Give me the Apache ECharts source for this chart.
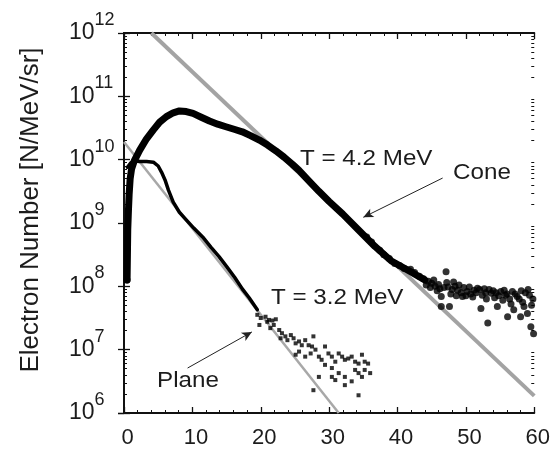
<!DOCTYPE html>
<html>
<head>
<meta charset="utf-8">
<script src="https://cdn.jsdelivr.net/npm/echarts@6/dist/echarts.min.js"></script>
<style>html,body{margin:0;padding:0;background:#fff}#c{width:553px;height:454px}</style>
</head>
<body>
<div id="c"></div>
<script>
// ---- data (x = electron energy [MeV], y = log10 of electron number [N/MeV/sr]) ----
const xTicks = [0, 10, 20, 30, 40, 50, 60];
const yExponents = [6, 7, 8, 9, 10, 11, 12];

const coneSpectrum = [
  [0.45,8.1],[0.5,8.5],[0.55,8.9],[0.65,9.2],[0.75,9.45],[0.9,9.7],[1.1,9.85],[1.5,9.98],
  [2.3,10.15],[3.3,10.33],[4.3,10.47],[5.2,10.59],[6.2,10.68],[7.2,10.74],[8.1,10.77],
  [9.1,10.76],[10.1,10.73],[11.3,10.67],[12.5,10.61],[13.7,10.56],[14.9,10.52],[16.1,10.48],
  [17.3,10.44],[18.5,10.38],[19.8,10.31],[21.0,10.23],[22.2,10.14],[23.4,10.04],[24.6,9.93],
  [25.6,9.83],[27.0,9.67],[28.5,9.5],[30.0,9.34],[32.0,9.14],[34.3,8.89],[36.7,8.63],
  [39.1,8.40],[41.6,8.25],[44.0,8.10]
];
const coneTail = [
  [0.45,8.1],[35.5,8.78],[36.2,8.7],[37.4,8.57],[38.0,8.5],[38.8,8.44],[39.6,8.36],[40.3,8.33],
  [41.0,8.28],[41.9,8.27],[42.5,8.22],[43.2,8.16],[43.8,8.12],[44.2,8.02],[44.5,8.08],[44.8,7.98],
  [45.0,8.05],[45.3,8.1],[45.5,8.0],[45.8,7.93],[46.0,8.03],[46.2,7.96],[46.4,7.84],[46.4,7.68],
  [46.8,7.98],[47.1,8.23],[47.2,8.06],[47.4,7.99],[47.6,7.68],[47.8,7.88],[48.0,7.95],[48.2,8.07],
  [48.4,8.0],[48.6,7.85],[48.8,7.94],[49.0,8.02],[49.3,7.9],[49.5,7.84],[49.7,7.98],[50.0,7.85],
  [50.2,7.92],[50.5,7.99],[50.7,7.88],[51.0,7.83],[51.2,7.94],[51.5,7.9],[51.7,7.97],[52.0,7.95],
  [52.2,7.65],[52.4,7.86],[52.7,7.96],[52.9,7.9],[53.0,7.8],[53.2,7.42],[53.4,7.95],[53.7,7.89],
  [54.0,7.93],[54.2,7.82],[54.4,7.9],[54.6,7.68],[54.8,7.85],[55.1,7.92],[55.4,7.78],[55.6,7.94],
  [55.8,7.86],[56.0,7.88],[56.1,7.52],[56.4,7.8],[56.6,7.72],[56.8,7.92],[57.0,7.63],[57.2,7.88],
  [57.5,7.84],[57.8,7.8],[58.0,7.52],[58.1,7.93],[58.3,7.75],[58.5,7.68],[58.7,7.9],[59.0,7.57],
  [59.1,7.95],[59.3,7.86],[59.5,7.36],[59.6,7.7],[59.8,7.8],[59.9,7.25]
];
const planeSpectrum = [
  [0.5,9.88],[1.0,9.95],[1.6,9.98],[2.3,9.97],[3.3,9.97],[4.3,9.96],[5.0,9.9],[5.5,9.8],
  [6.0,9.68],[6.5,9.52],[7.2,9.33],[8.1,9.17],[9.1,9.05],[10.2,8.92],[11.5,8.78],[12.7,8.62],
  [13.9,8.47],[15.1,8.3],[16.2,8.14],[17.3,7.96],[18.3,7.82],[19.5,7.63]
];
const planeTail = [
  [19.5,7.55],[20.0,7.50],[20.7,7.52],[20.96,7.44],[21.2,7.47],[21.7,7.46],[21.9,7.39],[22.2,7.48],
  [19.8,7.39],[21.4,7.34],[22.7,7.31],[23.1,7.26],[23.6,7.21],[22.9,7.18],[23.9,7.15],[24.4,7.23],
  [24.8,7.18],[25.1,7.10],[25.6,7.13],[26.0,7.07],[26.5,7.15],[27.0,7.07],[27.7,7.21],[27.5,7.05],
  [25.6,6.97],[25.1,6.92],[26.5,6.89],[27.3,6.94],[28.0,7.0],[28.5,6.89],[28.9,6.84],[29.4,7.05],
  [29.9,6.94],[30.4,6.89],[30.9,6.81],[31.4,6.94],[31.9,6.89],[32.3,6.84],[32.8,6.86],[33.3,6.89],
  [33.8,6.81],[34.3,6.78],[34.8,6.92],[35.2,6.81],[35.7,6.78],[29.4,6.76],[30.4,6.71],[31.4,6.63],
  [32.3,6.57],[33.3,6.50],[33.8,6.68],[34.3,6.63],[34.8,6.57],[35.2,6.68],[36.0,6.63],[28.5,6.57],
  [32.3,6.44],[34.3,6.28],[27.7,6.36],[30.4,6.57],[30.9,6.52]
];
const coneFit = [[4.0,12.0],[60.0,6.27]];    // T = 4.2 MeV
const planeFit = [[0.0,10.28],[31.4,6.0]];   // T = 3.2 MeV
const coneArrow = [[46.6,9.71],[35.0,9.09]];
const planeArrow = [[9.3,6.71],[18.7,7.28]];

// ---- helpers ----
const toVal = arr => arr.map(p => [p[0], Math.pow(10, p[1])]);
const eMin = yExponents[0], eMax = yExponents[yExponents.length - 1];
const yMin = Math.pow(10, eMin), yMax = Math.pow(10, eMax);
// minor ticks at 2..9 x 10^n, expressed on a companion axis in decades
const minorY = [];
for (let e = eMin; e < eMax; e++) {
  for (let m = 2; m <= 9; m++) minorY.push(e + Math.log10(m));
}
const FONT = '"Liberation Sans", Arial, Helvetica, sans-serif';
const TXT = '#1c1c1c';

const xBase = {
  type: 'value', min: xTicks[0], max: xTicks[xTicks.length - 1], interval: 10,
  axisLine: { show: true, onZero: false, lineStyle: { color: '#111', width: 2 } },
  axisTick: { show: true, inside: true, length: 6, lineStyle: { color: '#111', width: 1.3 } },
  minorTick: { show: true, splitNumber: 5, length: 3, lineStyle: { color: '#111', width: 1 } },
  splitLine: { show: false }, minorSplitLine: { show: false }
};
const yBase = {
  type: 'log', logBase: 10, min: yMin, max: yMax,
  axisLine: { show: true, lineStyle: { color: '#111', width: 2 } },
  axisTick: { show: true, inside: true, length: 6, lineStyle: { color: '#111', width: 1.3 } },
  splitLine: { show: false }
};
const yMinor = (pos) => ({
  type: 'value', min: eMin, max: eMax, interval: 1, position: pos,
  axisLine: { show: false }, axisLabel: { show: false }, splitLine: { show: false },
  axisTick: { show: true, inside: true, length: 3, customValues: minorY, lineStyle: { color: '#111', width: 1 } }
});

const chart = echarts.init(document.getElementById('c'), null, { renderer: 'canvas' });
chart.setOption({
  animation: false,
  backgroundColor: '#fff',
  grid: { left: 124, right: 16, top: 33, bottom: 41, containLabel: false },
  xAxis: [
    Object.assign({}, xBase, {
      position: 'bottom',
      axisLabel: { show: true, margin: 14, fontSize: 22, color: TXT, fontFamily: FONT, padding: [0, 0, 0, 7] }
    }),
    Object.assign({}, xBase, { position: 'top', axisLabel: { show: false } })
  ],
  yAxis: [
    Object.assign({}, yBase, {
      position: 'left',
      name: 'Electron Number [N/MeV/sr]',
      nameLocation: 'middle', nameGap: 80,
      nameTextStyle: { fontSize: 26, color: TXT, fontFamily: FONT, padding: [0, 0, 0, 26] },
      axisLabel: {
        show: true, align: 'left', margin: 55, color: TXT, fontFamily: FONT,
        formatter: v => '{b|10}{e|' + Math.round(Math.log10(v)) + '}',
        rich: {
          b: { fontSize: 23, color: TXT, fontFamily: FONT },
          e: { fontSize: 18, color: TXT, fontFamily: FONT, padding: [0, 0, 26, 0] }
        }
      }
    }),
    Object.assign({}, yBase, { position: 'right', axisLabel: { show: false } }),
    yMinor('left'),
    yMinor('right')
  ],
  series: [
    {
      name: 'Cone fit', type: 'line', data: toVal(coneFit), showSymbol: false, symbol: 'none',
      lineStyle: { color: '#a3a3a3', width: 4 }, z: 1, silent: true
    },
    {
      name: 'Plane fit', type: 'line', data: toVal(planeFit), showSymbol: false, symbol: 'none',
      lineStyle: { color: '#a8a8a8', width: 2.5 }, z: 1, silent: true,
      markLine: {
        silent: true, symbol: ['none', 'arrow'], symbolSize: [7, 10], label: { show: false },
        lineStyle: { color: '#222', width: 1, type: 'solid' },
        data: [
          [{ coord: [coneArrow[0][0], Math.pow(10, coneArrow[0][1])] }, { coord: [coneArrow[1][0], Math.pow(10, coneArrow[1][1])] }],
          [{ coord: [planeArrow[0][0], Math.pow(10, planeArrow[0][1])] }, { coord: [planeArrow[1][0], Math.pow(10, planeArrow[1][1])] }]
        ]
      }
    },
    {
      name: 'Cone', type: 'line', data: toVal(coneSpectrum), showSymbol: false, symbol: 'none',
      lineStyle: { color: '#000', width: 7, cap: 'round', join: 'round' }, z: 3
    },
    {
      name: 'Cone tail', type: 'scatter', data: toVal(coneTail), symbol: 'circle', symbolSize: 7,
      itemStyle: { color: '#000' }, z: 3
    },
    {
      name: 'Plane', type: 'line', data: toVal(planeSpectrum), showSymbol: false, symbol: 'none',
      lineStyle: { color: '#000', width: 3.5, cap: 'round', join: 'round' }, z: 3
    },
    {
      name: 'Plane tail', type: 'scatter', data: toVal(planeTail), symbol: 'rect', symbolSize: 4,
      itemStyle: { color: '#000' }, z: 3
    }
  ],
  graphic: [
    { type: 'text', x: 300, y: 159, scaleX: 1.1, style: { text: 'T = 4.2 MeV', fontSize: 22, fontFamily: FONT, fill: TXT, textAlign: 'left', textVerticalAlign: 'middle' } },
    { type: 'text', x: 453, y: 173, scaleX: 1.1, style: { text: 'Cone', fontSize: 22, fontFamily: FONT, fill: TXT, textAlign: 'left', textVerticalAlign: 'middle' } },
    { type: 'text', x: 271, y: 298, scaleX: 1.1, style: { text: 'T = 3.2 MeV', fontSize: 22, fontFamily: FONT, fill: TXT, textAlign: 'left', textVerticalAlign: 'middle' } },
    { type: 'text', x: 157, y: 381, scaleX: 1.1, style: { text: 'Plane', fontSize: 22, fontFamily: FONT, fill: TXT, textAlign: 'left', textVerticalAlign: 'middle' } }
  ]
});
</script>
</body>
</html>
